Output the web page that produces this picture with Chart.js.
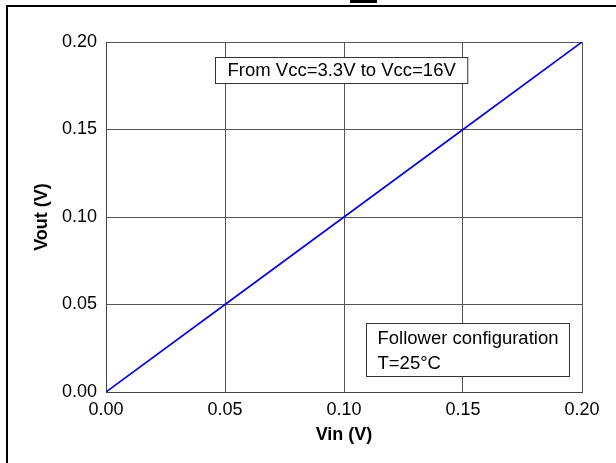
<!DOCTYPE html>
<html>
<head>
<meta charset="utf-8">
<script src="https://cdn.jsdelivr.net/npm/chart.js@4"></script>
<style>
  html, body { margin: 0; padding: 0; background: #fff; }
  #wrap { width: 616px; height: 463px; position: relative; }
</style>
</head>
<body>
<div id="wrap"><canvas id="c" width="616" height="463"></canvas></div>
<script>
// ---- data ----
const vin = [0.00, 0.05, 0.10, 0.15, 0.20];
const vout = [0.00, 0.05, 0.10, 0.15, 0.20];
const xTicks = [0.00, 0.05, 0.10, 0.15, 0.20];
const yTicks = [0.00, 0.05, 0.10, 0.15, 0.20];
const xTitle = 'Vin (V)';
const yTitle = 'Vout (V)';
const noteTop = ['From Vcc=3.3V to Vcc=16V'];
const noteBottom = ['Follower configuration', 'T=25°C'];

const FONT = '"Liberation Sans", Arial, sans-serif';
const GRID = '#555555';

const notesPlugin = {
  id: 'notes',
  beforeDraw(chart) {
    const ctx = chart.ctx;
    ctx.save();
    ctx.fillStyle = '#000';
    // outer frame (top and left edges) and clipped title mark
    ctx.fillRect(6, 5, 616 - 6, 2);
    ctx.fillRect(6, 5, 2, 463 - 5);
    ctx.fillRect(350, 0, 27, 3);
    ctx.restore();
  },
  afterDatasetsDraw(chart) {
    const ctx = chart.ctx;
    const xs = chart.scales.x, ys = chart.scales.y;
    ctx.save();
    ctx.font = '18.5px ' + FONT;
    ctx.textBaseline = 'middle';
    ctx.lineWidth = 1;
    ctx.strokeStyle = '#333';
    // top note: centered box
    {
      const w = ctx.measureText(noteTop[0]).width + 24;
      const h = 26;
      const cx = xs.getPixelForValue(0.099);
      const cy = ys.getPixelForValue(0.184);
      const l = Math.round(cx - w / 2) + 0.5, t = Math.round(cy - h / 2) + 0.5;
      ctx.fillStyle = '#fff';
      ctx.fillRect(l, t, w, h);
      ctx.strokeRect(l, t, w, h);
      ctx.fillStyle = '#000';
      ctx.textAlign = 'left';
      ctx.fillText(noteTop[0], l + 12, cy + 1);
    }
    // bottom note: anchored at right-bottom
    {
      let tw = 0;
      noteBottom.forEach(s => tw = Math.max(tw, ctx.measureText(s).width));
      const w = tw + 22;
      const h = 53;
      const r = xs.getPixelForValue(0.1945);
      const b = ys.getPixelForValue(0.0091);
      const l = Math.round(r - w) + 0.5, t = Math.round(b - h) + 0.5;
      ctx.fillStyle = '#fff';
      ctx.fillRect(l, t, w, h);
      ctx.strokeRect(l, t, w, h);
      ctx.fillStyle = '#000';
      ctx.textAlign = 'left';
      noteBottom.forEach((s, i) => ctx.fillText(s, l + 11, t + 15 + i * 25));
    }
    ctx.restore();
  }
};

new Chart(document.getElementById('c'), {
  type: 'line',
  data: {
    datasets: [{
      data: vin.map((x, i) => ({ x: x, y: vout[i] })),
      borderColor: '#0000ff',
      borderWidth: 1.6,
      pointRadius: 0,
      fill: false,
      tension: 0
    }]
  },
  options: {
    responsive: false,
    animation: false,
    devicePixelRatio: 1,
    layout: { padding: { left: 0, top: 42, right: 34, bottom: 0 } },
    plugins: { legend: { display: false }, tooltip: { enabled: false } },
    scales: {
      x: {
        type: 'linear',
        min: 0, max: 0.2,
        afterBuildTicks: s => { s.ticks = xTicks.map(v => ({ value: v })); },
        afterFit: s => { s.height = 71; },
        grid: { color: GRID, lineWidth: 1, drawTicks: false },
        border: { color: '#444', width: 1 },
        ticks: {
          color: '#000', padding: 7,
          font: { family: FONT, size: 18 },
          maxRotation: 0, autoSkip: false,
          callback: v => Number(v).toFixed(2)
        },
        title: {
          display: true, text: xTitle, color: '#000',
          font: { family: FONT, size: 18, weight: 'bold' },
          padding: { top: 0, bottom: 17 }
        }
      },
      y: {
        type: 'linear',
        min: 0, max: 0.2,
        afterBuildTicks: s => { s.ticks = yTicks.map(v => ({ value: v })); },
        afterFit: s => { s.width = 106; },
        grid: { color: GRID, lineWidth: 1, drawTicks: false },
        border: { color: '#444', width: 1 },
        ticks: {
          color: '#000', padding: 9,
          font: { family: FONT, size: 18 },
          autoSkip: false,
          callback: v => Number(v).toFixed(2)
        },
        title: {
          display: true, text: yTitle, color: '#000',
          font: { family: FONT, size: 18, weight: 'bold' },
          padding: { top: 31, bottom: 0 }
        }
      }
    }
  },
  plugins: [notesPlugin]
});
</script>
</body>
</html>
